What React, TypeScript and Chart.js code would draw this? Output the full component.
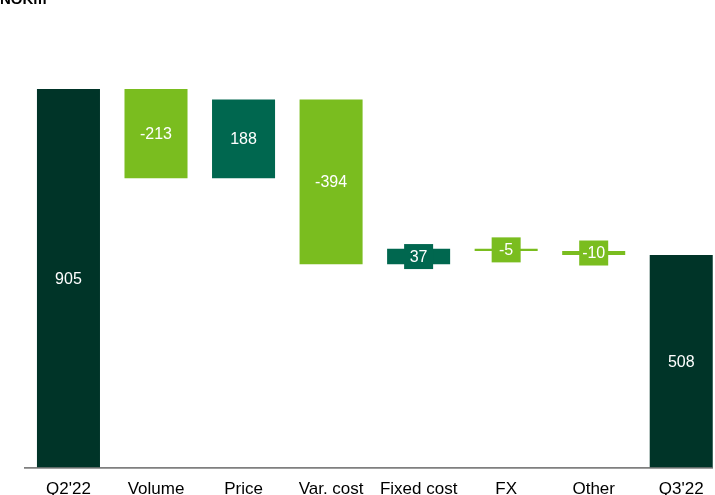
import React, { useEffect, useRef } from "react";
import { Chart, registerables } from "chart.js";

Chart.register(...registerables);

const categories = ["Q2'22", "Volume", "Price", "Var. cost", "Fixed cost", "FX", "Other", "Q3'22"];
// kind: "total" bars start at zero; "delta" bars float on the running total
const kinds = ["total", "delta", "delta", "delta", "delta", "delta", "delta", "total"];
const values = [905, -213, 188, -394, 37, -5, -10, 508];
const labels = ["905", "-213", "188", "-394", "37", "-5", "-10", "508"];

const DARK = "#003428";
const MID = "#00674F";
const LIGHT = "#7ABD1F";

function buildRanges(): [number, number][] {
  const out: [number, number][] = [];
  let running = 0;
  values.forEach((v, i) => {
    if (kinds[i] === "total") {
      out.push([0, v]);
      running = v;
    } else {
      out.push([running, running + v]);
      running += v;
    }
  });
  return out;
}

function colorFor(i: number) {
  if (kinds[i] === "total") return DARK;
  return values[i] < 0 ? LIGHT : MID;
}

const labelPlugin = {
  id: "wfLabels",
  afterDatasetsDraw(chart: any) {
    const ctx = chart.ctx;
    const meta = chart.getDatasetMeta(0);
    ctx.save();
    ctx.font = "16px 'Liberation Sans', Arial, sans-serif";
    ctx.textAlign = "center";
    ctx.textBaseline = "middle";
    meta.data.forEach((bar: any, i: number) => {
      const { x, y, base } = bar.getProps(["x", "y", "base"], true);
      const top = Math.min(y, base);
      const bottom = Math.max(y, base);
      const cy = (top + bottom) / 2;
      const h = bottom - top;
      const text = labels[i];
      if (h < 26) {
        const bw = 29;
        const bh = 25;
        ctx.fillStyle = colorFor(i);
        ctx.fillRect(x - bw / 2, cy - bh / 2, bw, bh);
      }
      ctx.fillStyle = "#ffffff";
      ctx.fillText(text, x, cy + 1);
    });
    ctx.restore();
  },
};

export default function App() {
  const ref = useRef<HTMLCanvasElement | null>(null);
  useEffect(() => {
    if (!ref.current) return;
    const ranges = buildRanges();
    const chart = new Chart(ref.current, {
      type: "bar",
      data: {
        labels: categories,
        datasets: [
          {
            data: ranges as any,
            backgroundColor: categories.map((_, i) => colorFor(i)),
            borderWidth: 0,
            borderSkipped: false,
            categoryPercentage: 1,
            barPercentage: 0.72,
          },
        ],
      },
      options: {
        animation: false,
        responsive: false,
        maintainAspectRatio: false,
        layout: { padding: { left: 24.7, right: 15, top: 56.3, bottom: 0 } },
        plugins: {
          legend: { display: false },
          tooltip: { enabled: false },
        },
        scales: {
          x: {
            grid: { display: false, drawTicks: false },
            border: { display: true, color: "#7f7f7f", width: 1.7 },
            ticks: {
              color: "#000000",
              font: { family: "'Liberation Sans', Arial, sans-serif", size: 17 },
              padding: 12,
              maxRotation: 0,
              autoSkip: false,
            },
          },
          y: {
            display: false,
            min: 0,
            max: 1000,
          },
        },
      },
      plugins: [labelPlugin],
    });
    return () => chart.destroy();
  }, []);

  return (
    <div
      style={{
        position: "fixed",
        left: 0,
        top: 0,
        width: 713,
        height: 495,
        overflow: "hidden",
        background: "#ffffff",
      }}
    >
      <canvas ref={ref} width={740} height={519} style={{ position: "absolute", left: 0, top: -7 }} />
      <div
        style={{
          position: "absolute",
          left: 0,
          top: -10,
          font: "bold 15px 'Liberation Sans', Arial, sans-serif",
          lineHeight: "18px",
          color: "#000",
        }}
      >
        NOKm
      </div>
    </div>
  );
}
